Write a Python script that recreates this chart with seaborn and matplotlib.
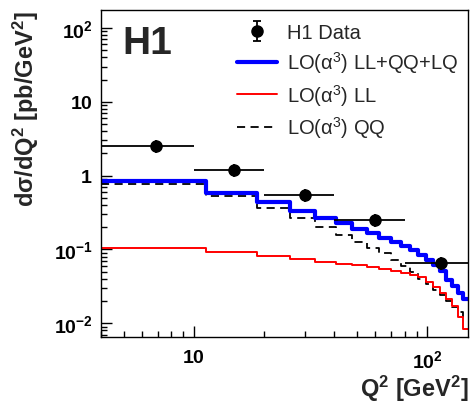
import numpy as np
import matplotlib
matplotlib.use('Agg')
import matplotlib.pyplot as plt
import seaborn as sns
from matplotlib.ticker import FixedLocator, FixedFormatter, LogLocator, NullFormatter

# Q^2 binning of the LO predictions (20 equal bins from 4 to 150 GeV^2)
bin_edges = [4.0, 11.3, 18.6, 25.9, 33.2, 40.5, 47.8, 55.1, 62.4, 69.7, 77.0,
             84.3, 91.6, 98.9, 106.2, 113.5, 120.8, 128.1, 135.4, 142.7, 150.0]

# LO(alpha^3) LL+QQ+LQ
lo_total = [0.856, 0.589, 0.445, 0.329, 0.267, 0.230, 0.191, 0.168, 0.144, 0.126,
            0.111, 0.098, 0.083, 0.072, 0.061, 0.051, 0.039, 0.032, 0.026, 0.021]
# LO(alpha^3) LL
lo_ll = [0.104, 0.0925, 0.0812, 0.0733, 0.0674, 0.0637, 0.0608, 0.0571, 0.0537, 0.0504,
         0.0474, 0.0452, 0.0418, 0.0358, 0.0307, 0.0254, 0.0211, 0.0170, 0.0121, 0.0083]
# LO(alpha^3) QQ
lo_qq = [0.768, 0.525, 0.358, 0.262, 0.203, 0.159, 0.126, 0.105, 0.088, 0.072,
         0.0595, 0.0493, 0.0402, 0.0337, 0.0282, 0.0239, 0.0200, 0.0168, 0.0142, 0.0116]

# H1 data
data_q2 = [6.9, 14.9, 30.0, 59.5, 115.0]
data_q2_lo = [4.0, 10.0, 20.0, 40.0, 80.0]
data_q2_hi = [10.0, 20.0, 40.0, 80.0, 150.0]
data_xs = [2.54, 1.19, 0.542, 0.249, 0.066]
data_err = [0.5, 0.24, 0.11, 0.05, 0.013]

sns.set_style('ticks')
plt.rcParams['font.family'] = ['Liberation Sans', 'DejaVu Sans']
plt.rcParams['mathtext.fontset'] = 'custom'
plt.rcParams['mathtext.rm'] = 'Liberation Sans'
plt.rcParams['mathtext.it'] = 'Liberation Sans:italic'
plt.rcParams['mathtext.bf'] = 'Liberation Sans:bold'

fig = plt.figure(figsize=(4.71, 4.06), dpi=100)
ax = fig.add_axes([0.2144, 0.1675, 0.7800, 0.8054])
ax.set_xscale('log')
ax.set_yscale('log')

def step_line(vals, color, lw, ls):
    yy = list(vals) + [vals[-1]]
    sns.lineplot(x=bin_edges, y=yy, drawstyle='steps-post', color=color, lw=lw,
                 linestyle=ls, estimator=None, sort=False, ax=ax)
    return ax.lines[-1]

h_qq = step_line(lo_qq, 'black', 1.3, (0, (4.5, 3)))
h_ll = step_line(lo_ll, '#ff0000', 1.4, '-')
h_tot = step_line(lo_total, '#0000ff', 3.0, '-')

xs = np.array(data_q2)
xerr = [xs - np.array(data_q2_lo), np.array(data_q2_hi) - xs]
ax.errorbar(data_q2, data_xs, xerr=xerr, yerr=data_err, fmt='o', color='black', ms=8,
            elinewidth=1.3, capsize=0, zorder=6)
# legend symbol for the data (point with total error bar)
h_dat = ax.errorbar([np.nan], [np.nan], yerr=[1], fmt='o', color='black', ms=8,
                    elinewidth=1.3, capsize=3, capthick=1.3)

ax.set_xlim(4, 150)
ax.set_ylim(0.0065, 175)

ax.xaxis.set_major_locator(FixedLocator([10, 100]))
ax.xaxis.set_major_formatter(FixedFormatter([r'$\mathbf{10}$', r'$\mathbf{10^{2}}$']))
ax.xaxis.set_minor_locator(LogLocator(base=10, subs=np.arange(2, 10)))
ax.xaxis.set_minor_formatter(NullFormatter())
ax.yaxis.set_major_locator(FixedLocator([0.01, 0.1, 1, 10, 100]))
ax.yaxis.set_major_formatter(FixedFormatter([r'$\mathbf{10^{-2}}$', r'$\mathbf{10^{-1}}$',
                                             r'$\mathbf{1}$', r'$\mathbf{10}$', r'$\mathbf{10^{2}}$']))
ax.yaxis.set_minor_locator(LogLocator(base=10, subs=np.arange(2, 10)))
ax.yaxis.set_minor_formatter(NullFormatter())
ax.tick_params(which='both', direction='in', labelsize=14, width=1, colors='black')
ax.tick_params(axis='x', which='major', length=8, pad=9)
ax.tick_params(axis='y', which='major', length=8, pad=6)
ax.tick_params(which='minor', length=4)
for s in ax.spines.values():
    s.set_linewidth(1.0)
    s.set_color('black')

ax.set_xlabel(r'$\mathbf{Q^{2}}$ [GeV$^{\mathbf{2}}$]', fontsize=17, fontweight='bold',
              loc='right', labelpad=1)
ax.set_ylabel(r'd$\mathbf{\sigma}$/d$\mathbf{Q^{2}}$ [pb/GeV$^{\mathbf{2}}$]', fontsize=17,
              fontweight='bold', loc='top', labelpad=9)
ax.text(0.058, 0.955, 'H1', transform=ax.transAxes, fontsize=28, fontweight='bold',
        ha='left', va='top')

labels = ['H1 Data', r'LO(α$^{3}$) LL+QQ+LQ', r'LO(α$^{3}$) LL', r'LO(α$^{3}$) QQ']
ax.legend([h_dat, h_tot, h_ll, h_qq], labels, loc='upper left', bbox_to_anchor=(0.37, 0.96),
          frameon=False, fontsize=14.5, handlelength=2.0, handletextpad=0.5,
          labelspacing=0.34, borderpad=0, borderaxespad=0)

fig.savefig('out.png', dpi=100)
